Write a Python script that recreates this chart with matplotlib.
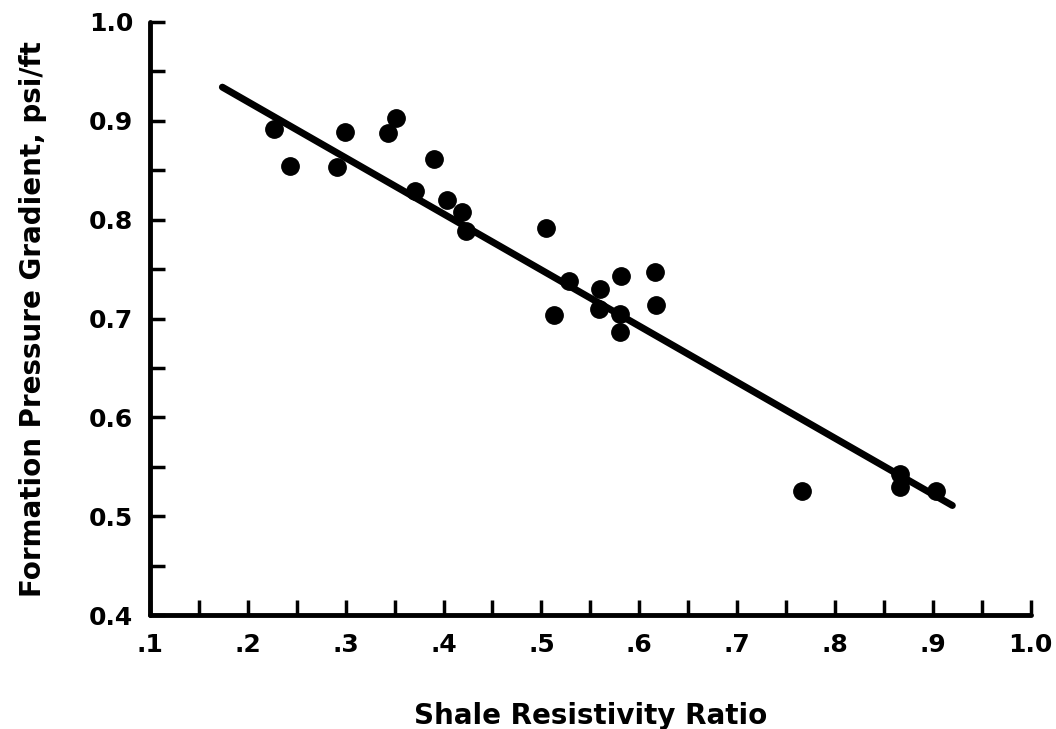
from matplotlib import pyplot as plt
from matplotlib.ticker import MultipleLocator, FixedLocator, FixedFormatter
import numpy as np

# data
ratio = [0.227, 0.243, 0.291, 0.299, 0.343, 0.351, 0.371, 0.390, 0.404, 0.419,
         0.423, 0.505, 0.513, 0.528, 0.560, 0.559, 0.581, 0.580, 0.580, 0.616,
         0.617, 0.766, 0.866, 0.866, 0.903]
gradient = [0.892, 0.854, 0.853, 0.889, 0.888, 0.903, 0.829, 0.861, 0.820, 0.808,
            0.789, 0.792, 0.704, 0.738, 0.730, 0.710, 0.743, 0.705, 0.686, 0.747,
            0.714, 0.526, 0.543, 0.530, 0.526]

fit_x = [0.174, 0.920]
fit_y = [0.934, 0.511]

x_ticks = [0.1, 0.2, 0.3, 0.4, 0.5, 0.6, 0.7, 0.8, 0.9, 1.0]
x_labels = ['.1', '.2', '.3', '.4', '.5', '.6', '.7', '.8', '.9', '1.0']
y_ticks = [0.4, 0.5, 0.6, 0.7, 0.8, 0.9, 1.0]
y_labels = ['0.4', '0.5', '0.6', '0.7', '0.8', '0.9', '1.0']

plt.rcParams['font.family'] = 'DejaVu Sans'
plt.rcParams['font.weight'] = 'bold'

fig = plt.figure(figsize=(10.56, 7.29), dpi=100)
ax = fig.add_axes([0.142, 0.156, 0.834, 0.814])

ax.plot(fit_x, fit_y, color='black', linewidth=5, solid_capstyle='round', zorder=2)
ax.plot(ratio, gradient, linestyle='', marker='o', color='black', markersize=12.5, zorder=3)

ax.set_xlim(0.1, 1.0)
ax.set_ylim(0.4, 1.0)

for axis in ['bottom', 'left']:
    ax.spines[axis].set_linewidth(3.5)
    ax.spines[axis].set_capstyle('round')
for axis in ['top', 'right']:
    ax.spines[axis].set_visible(False)

ax.xaxis.set_major_locator(FixedLocator(x_ticks))
ax.xaxis.set_major_formatter(FixedFormatter(x_labels))
ax.xaxis.set_minor_locator(MultipleLocator(0.05))
ax.yaxis.set_major_locator(FixedLocator(y_ticks))
ax.yaxis.set_major_formatter(FixedFormatter(y_labels))
ax.yaxis.set_minor_locator(MultipleLocator(0.05))

ax.tick_params(axis='both', which='both', direction='in', width=2.5, length=11)
ax.tick_params(axis='x', which='major', labelsize=18, pad=13)
ax.tick_params(axis='y', which='major', labelsize=18, pad=12)

ax.set_xlabel('Shale Resistivity Ratio', fontsize=20, fontweight='bold', labelpad=32)
ax.set_ylabel('Formation Pressure Gradient, psi/ft', fontsize=20, fontweight='bold', labelpad=30)

plt.savefig('out.png', dpi=100)
